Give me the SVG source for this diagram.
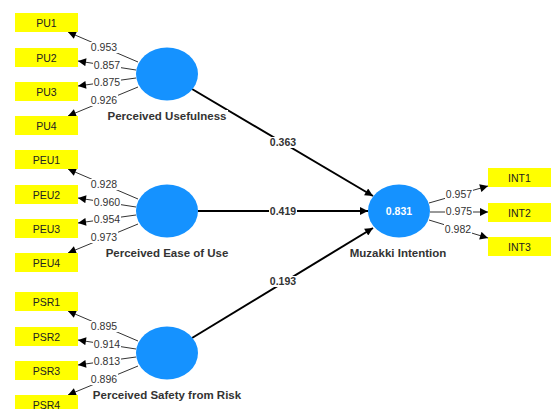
<svg xmlns="http://www.w3.org/2000/svg" width="555" height="409" viewBox="0 0 555 409">
<defs>
<style>
.box{fill:#ffff00}
.bt{font-family:"Liberation Sans",Arial,sans-serif;font-size:10.5px;fill:#222;text-anchor:middle}
.lv{fill:#1592ff}
.ln{font-family:"Liberation Sans",Arial,sans-serif;font-size:11.5px;font-weight:bold;fill:#333;text-anchor:middle}
.ld{font-family:"Liberation Sans",Arial,sans-serif;font-size:10.5px;fill:#333;text-anchor:middle}
.pc{font-family:"Liberation Sans",Arial,sans-serif;font-size:10.5px;font-weight:bold;fill:#333;text-anchor:middle}
.bg{fill:#fff}
.thin{stroke:#333;stroke-width:1;fill:none;marker-end:url(#ah)}
.thick{stroke:#000;stroke-width:2;fill:none;marker-end:url(#ah)}
</style>
<marker id="ah" viewBox="0 0 10 10" refX="10" refY="5" markerWidth="10" markerHeight="8" markerUnits="userSpaceOnUse" orient="auto">
<path d="M0,0 L10,5 L0,10 z" fill="#000"/>
</marker>
</defs>
<rect width="555" height="409" fill="#fff"/>

<g id="connectors">
<!-- PU loadings -->
<line class="thin" x1="138" y1="62" x2="68" y2="32"/>
<line class="thin" x1="136" y1="70" x2="78" y2="61"/>
<line class="thin" x1="136" y1="78" x2="78" y2="86"/>
<line class="thin" x1="138" y1="87" x2="68" y2="116"/>
<!-- PEU loadings -->
<line class="thin" x1="138" y1="199" x2="68" y2="169"/>
<line class="thin" x1="136" y1="207" x2="78" y2="198"/>
<line class="thin" x1="136" y1="215" x2="78" y2="223"/>
<line class="thin" x1="138" y1="224" x2="68" y2="253"/>
<!-- PSR loadings -->
<line class="thin" x1="138" y1="341" x2="68" y2="311"/>
<line class="thin" x1="136" y1="349" x2="78" y2="340"/>
<line class="thin" x1="136" y1="357" x2="78" y2="365"/>
<line class="thin" x1="138" y1="366" x2="68" y2="395"/>
<!-- INT loadings -->
<line class="thin" x1="429" y1="203" x2="488" y2="186"/>
<line class="thin" x1="430" y1="212" x2="488" y2="212"/>
<line class="thin" x1="429" y1="220" x2="488" y2="238"/>
<!-- paths -->
<line class="thick" x1="192" y1="89" x2="373" y2="196"/>
<line class="thick" x1="198" y1="211" x2="368" y2="211"/>
<line class="thick" x1="192" y1="338" x2="373" y2="228"/>
<!-- labels -->
<rect class="bg" x="90" y="42" width="28" height="11"/><text class="ld" x="104" y="51">0.953</text>
<rect class="bg" x="93" y="60" width="28" height="11"/><text class="ld" x="107" y="69">0.857</text>
<rect class="bg" x="93" y="77" width="28" height="11"/><text class="ld" x="107" y="86">0.875</text>
<rect class="bg" x="90" y="95" width="28" height="11"/><text class="ld" x="104" y="104">0.926</text>
<rect class="bg" x="90" y="179" width="28" height="11"/><text class="ld" x="104" y="188">0.928</text>
<rect class="bg" x="93" y="197" width="28" height="11"/><text class="ld" x="107" y="206">0.960</text>
<rect class="bg" x="93" y="214" width="28" height="11"/><text class="ld" x="107" y="223">0.954</text>
<rect class="bg" x="90" y="232" width="28" height="11"/><text class="ld" x="104" y="241">0.973</text>
<rect class="bg" x="90" y="321" width="28" height="11"/><text class="ld" x="104" y="330">0.895</text>
<rect class="bg" x="93" y="339" width="28" height="11"/><text class="ld" x="107" y="348">0.914</text>
<rect class="bg" x="93" y="356" width="28" height="11"/><text class="ld" x="107" y="365">0.813</text>
<rect class="bg" x="90" y="374" width="28" height="11"/><text class="ld" x="104" y="383">0.896</text>
<rect class="bg" x="445" y="189" width="28" height="11"/><text class="ld" x="459" y="198">0.957</text>
<rect class="bg" x="445" y="206" width="28" height="11"/><text class="ld" x="459" y="215">0.975</text>
<rect class="bg" x="444" y="224" width="28" height="11"/><text class="ld" x="458" y="233">0.982</text>
<rect class="bg" x="269" y="137" width="28" height="11"/><text class="pc" x="283" y="146">0.363</text>
<rect class="bg" x="269" y="206" width="28" height="11"/><text class="pc" x="283" y="215">0.419</text>
<rect class="bg" x="269" y="276" width="28" height="11"/><text class="pc" x="283" y="285">0.193</text>
</g>

<g id="PU1"><rect class="box" x="15" y="13" width="63" height="19"/><text class="bt" x="46.5" y="26.5">PU1</text></g>
<g id="PU2"><rect class="box" x="15" y="48" width="63" height="19"/><text class="bt" x="46.5" y="61.5">PU2</text></g>
<g id="PU3"><rect class="box" x="15" y="82" width="63" height="19"/><text class="bt" x="46.5" y="95.5">PU3</text></g>
<g id="PU4"><rect class="box" x="15" y="116" width="63" height="19"/><text class="bt" x="46.5" y="129.5">PU4</text></g>

<g id="PEU1"><rect class="box" x="15" y="150" width="63" height="19"/><text class="bt" x="46.5" y="163.5">PEU1</text></g>
<g id="PEU2"><rect class="box" x="15" y="185" width="63" height="19"/><text class="bt" x="46.5" y="198.5">PEU2</text></g>
<g id="PEU3"><rect class="box" x="15" y="219" width="63" height="19"/><text class="bt" x="46.5" y="232.5">PEU3</text></g>
<g id="PEU4"><rect class="box" x="15" y="253" width="63" height="19"/><text class="bt" x="46.5" y="266.5">PEU4</text></g>

<g id="PSR1"><rect class="box" x="15" y="292" width="63" height="19"/><text class="bt" x="46.5" y="305.5">PSR1</text></g>
<g id="PSR2"><rect class="box" x="15" y="327" width="63" height="19"/><text class="bt" x="46.5" y="340.5">PSR2</text></g>
<g id="PSR3"><rect class="box" x="15" y="361" width="63" height="19"/><text class="bt" x="46.5" y="374.5">PSR3</text></g>
<g id="PSR4"><rect class="box" x="15" y="395" width="63" height="19"/><text class="bt" x="46.5" y="408.5">PSR4</text></g>

<g id="INT1"><rect class="box" x="488" y="168" width="63" height="19"/><text class="bt" x="519.5" y="181.5">INT1</text></g>
<g id="INT2"><rect class="box" x="488" y="203" width="63" height="19"/><text class="bt" x="519.5" y="216.5">INT2</text></g>
<g id="INT3"><rect class="box" x="488" y="237" width="63" height="19"/><text class="bt" x="519.5" y="250.5">INT3</text></g>

<g id="PerceivedUsefulness"><ellipse class="lv" cx="167" cy="74" rx="31" ry="26.5"/><rect class="bg" x="107" y="110" width="121" height="12"/><text class="ln" x="167" y="120">Perceived Usefulness</text></g>
<g id="PerceivedEaseOfUse"><ellipse class="lv" cx="167" cy="211" rx="31" ry="26.5"/><text class="ln" x="167" y="257">Perceived Ease of Use</text></g>
<g id="PerceivedSafetyFromRisk"><ellipse class="lv" cx="167" cy="353" rx="31" ry="26.5"/><text class="ln" x="167" y="399">Perceived Safety from Risk</text></g>
<g id="MuzakkiIntention"><ellipse class="lv" cx="399" cy="211" rx="31" ry="26.5"/><text class="pc" x="399" y="215" style="fill:#fff">0.831</text><text class="ln" x="398" y="257">Muzakki Intention</text></g>
</svg>
